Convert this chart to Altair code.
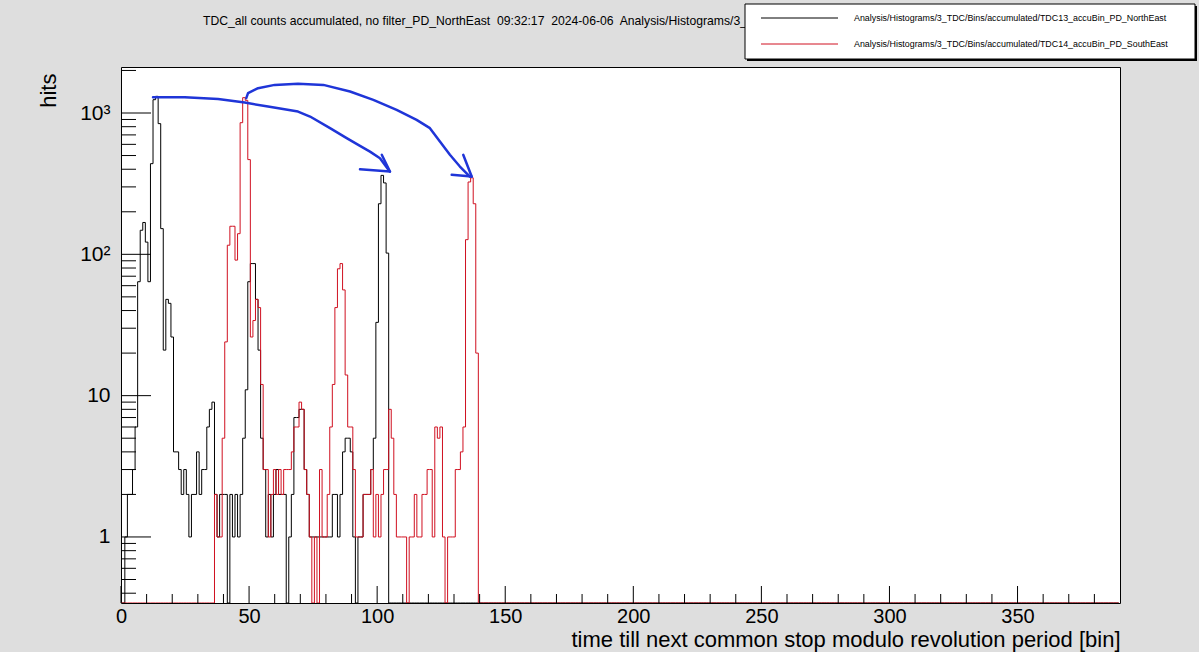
import altair as alt
import pandas as pd

# ---------------- data (bin centre = list index, bin width 1) ----------------
N_BINS = 390
black_hits = [0, 0, 1, 2, 2, 3, 6, 64, 148, 168, 122,
              64, 438, 1242, 1312, 841, 152, 21, 48, 45, 26,
              4, 4, 3, 2, 3, 2, 1, 2, 2, 4,
              2, 3, 3, 6, 8, 9, 2, 1, 2, 2,
              2, 0, 2, 1, 2, 1, 2, 5, 11, 64,
              86, 86, 48, 21, 5, 3, 1, 2, 1, 2,
              3, 2, 2, 2, 0, 1, 2, 7, 7, 8,
              8, 3, 2, 1, 1, 1, 1, 1, 1, 1,
              1, 1, 2, 2, 1, 2, 4, 5, 5, 4,
              1, 0, 1, 1, 2, 2, 2, 3, 5, 33,
              228, 362, 320, 102]
red_hits = [0] * 37 + [2, 1, 1, 5,
            24, 116, 158, 158, 91, 140, 854, 1284, 1229, 468,
            26, 34, 48, 42, 12, 3, 3, 1, 2, 3,
            2, 3, 2, 3, 3, 3, 4, 6, 6, 9,
            8, 3, 2, 1, 0, 1, 0, 3, 1, 1,
            2, 6, 12, 42, 79, 86, 56, 14, 6, 6,
            3, 1, 1, 1, 2, 2, 2, 3, 1, 2,
            1, 2, 3, 3, 8, 5, 2, 1, 1, 1,
            1, 0, 1, 1, 2, 1, 1, 2, 2, 3,
            3, 1, 6, 5, 6, 1, 0, 1, 1, 1,
            3, 3, 4, 6, 127, 325, 348, 228, 20]
black_hits = black_hits + [0] * (N_BINS - len(black_hits))
red_hits = red_hits + [0] * (N_BINS - len(red_hits))

x_major_ticks = [0, 50, 100, 150, 200, 250, 300, 350]
x_minor_ticks = [v for v in range(10, 390, 10) if v % 50 != 0]
y_major_ticks = [1, 10, 100, 1000]
y_minor_ticks = [0.4, 0.5, 0.6, 0.7, 0.8, 0.9,
                 2, 3, 4, 5, 6, 7, 8, 9,
                 20, 30, 40, 50, 60, 70, 80, 90,
                 200, 300, 400, 500, 600, 700, 800, 900, 2000]

# hand-drawn blue annotation arrows (data coordinates)
arrow1_x = [12.5, 24.9, 37.9, 48.3, 57.4, 69.1, 73.8, 81.6, 88.1, 93.3, 97.2, 101.1, 104.4]
arrow1_y = [1294, 1294, 1254, 1186, 1110, 1023, 944, 781, 664, 585, 533, 479, 396]
arrow1_head_x = [93.3, 105.0, 101.8]
arrow1_head_y = [400, 385, 506]
arrow2_x = [48.9, 49.6, 53.5, 60.0, 69.1, 79.0, 89.4, 98.5, 107.6, 115.4, 120.6, 124.5, 128.4, 132.3, 136.2]
arrow2_y = [1273, 1381, 1499, 1581, 1608, 1581, 1419, 1239, 1052, 894, 781, 628, 506, 418, 355]
arrow2_head_x = [129.1, 136.9, 133.6]
arrow2_head_y = [365, 355, 506]

NB = "\u00a0"
title_text = ("TDC_all counts accumulated, no filter_PD_NorthEast" + NB + " 09:32:17" + NB + " 2024-06-06"
              + NB + " Analysis/Histograms/3_TDC")
legend_labels = ["Analysis/Histograms/3_TDC/Bins/accumulated/TDC13_accuBin_PD_NorthEast",
                 "Analysis/Histograms/3_TDC/Bins/accumulated/TDC14_accuBin_PD_SouthEast"]
x_title = "time till next common stop modulo revolution period [bin]"
y_title = "hits"

# ---------------- geometry / style ----------------
W, H = 999, 536
Y_MIN, Y_MAX = 0.341, 2116
FONT = "Liberation Sans"
BLACK = "#000000"
RED = "#d01020"
BLUE = "#1f35d8"

xscale = alt.Scale(domain=[0, N_BINS], nice=False, zero=False)
yscale = alt.Scale(type="log", domain=[Y_MIN, Y_MAX], nice=False)

x_axis = alt.Axis(values=x_major_ticks, ticks=False, tickSize=0, domain=False, grid=False,
                  labelFont=FONT, labelFontSize=20, labelColor=BLACK, labelPadding=3,
                  labelFlush=False, labelOverlap=False,
                  title=x_title, titleFont=FONT, titleFontSize=22, titleFontWeight="normal",
                  titleColor=BLACK, titleX=W, titleY=43, titleAlign="right",
                  titleBaseline="alphabetic")
y_axis = alt.Axis(values=y_major_ticks, ticks=False, tickSize=0, domain=False, grid=False,
                  labelExpr="datum.value >= 1000 ? '10³' : datum.value >= 100 ? '10²' : datum.value >= 10 ? '10' : '1'",
                  labelFont=FONT, labelFontSize=21, labelColor=BLACK, labelPadding=11,
                  labelFlush=False, labelOverlap=False, labelBaseline="middle",
                  title=y_title, titleFont=FONT, titleFontSize=22, titleFontWeight="normal",
                  titleColor=BLACK, titleAngle=270, titleX=-66, titleY=6,
                  titleAlign="right", titleBaseline="alphabetic")


def X(field):
    return alt.X(field, scale=xscale, axis=x_axis)


def Y(field):
    return alt.Y(field, scale=yscale, axis=y_axis)


def step_frame(hits):
    rows = []
    for i, v in enumerate(hits):
        rows.append({"x": i - 0.5, "y": max(v, Y_MIN), "seq": i})
    rows.append({"x": len(hits) - 0.5, "y": max(hits[-1], Y_MIN), "seq": len(hits)})
    return pd.DataFrame(rows)


df_black = step_frame(black_hits)
df_red = step_frame(red_hits)

black_line = alt.Chart(df_black).mark_line(
    interpolate="step-after", color=BLACK, strokeWidth=1, clip=True
).encode(x=X("x:Q"), y=Y("y:Q"), order="seq:Q")

red_line = alt.Chart(df_red).mark_line(
    interpolate="step-after", color=RED, strokeWidth=1, clip=True
).encode(x=X("x:Q"), y=Y("y:Q"), order="seq:Q")

# inward ROOT-style ticks
ymaj = alt.Chart(pd.DataFrame({"y": y_major_ticks})).mark_rule(color=BLACK, strokeWidth=1).encode(
    y=Y("y:Q"), x=alt.value(0), x2=alt.value(30))
ymin = alt.Chart(pd.DataFrame({"y": y_minor_ticks})).mark_rule(color=BLACK, strokeWidth=1).encode(
    y=Y("y:Q"), x=alt.value(0), x2=alt.value(15))
xmaj = alt.Chart(pd.DataFrame({"x": x_major_ticks})).mark_rule(color=BLACK, strokeWidth=1).encode(
    x=X("x:Q"), y=alt.value(H), y2=alt.value(H - 17))
xmin = alt.Chart(pd.DataFrame({"x": x_minor_ticks})).mark_rule(color=BLACK, strokeWidth=1).encode(
    x=X("x:Q"), y=alt.value(H), y2=alt.value(H - 9))

# arrows
arrow_rows = []
for g, xs, ys in [("a1", arrow1_x, arrow1_y), ("a2", arrow2_x, arrow2_y)]:
    for k, (xx, yy) in enumerate(zip(xs, ys)):
        arrow_rows.append({"g": g, "x": xx, "y": yy, "seq": k})
for g, xs, ys in [("h1", arrow1_head_x, arrow1_head_y), ("h2", arrow2_head_x, arrow2_head_y)]:
    arrow_rows.append({"g": g + "a", "x": xs[0], "y": ys[0], "seq": 0})
    arrow_rows.append({"g": g + "a", "x": xs[1], "y": ys[1], "seq": 1})
    arrow_rows.append({"g": g + "b", "x": xs[2], "y": ys[2], "seq": 0})
    arrow_rows.append({"g": g + "b", "x": xs[1], "y": ys[1], "seq": 1})
arrows = alt.Chart(pd.DataFrame(arrow_rows)).mark_line(
    color=BLUE, strokeWidth=2.5, strokeCap="round", strokeJoin="round", clip=False
).encode(x=X("x:Q"), y=Y("y:Q"), detail="g:N", order="seq:Q")

one = pd.DataFrame({"k": [0]})
title = alt.Chart(one).mark_text(
    text=title_text, font=FONT, fontSize=12.2, align="left", baseline="alphabetic", color=BLACK
).encode(x=alt.value(82), y=alt.value(-42))

legend_shadow = alt.Chart(one).mark_rect(fill=BLACK).encode(
    x=alt.value(626), x2=alt.value(1076), y=alt.value(-61), y2=alt.value(-6))
legend_box = alt.Chart(one).mark_rect(fill="white", stroke=BLACK, strokeWidth=1).encode(
    x=alt.value(624), x2=alt.value(1074), y=alt.value(-63), y2=alt.value(-8))
leg_line1 = alt.Chart(one).mark_rule(color=BLACK, strokeWidth=1).encode(
    x=alt.value(640), x2=alt.value(717), y=alt.value(-49))
leg_line2 = alt.Chart(one).mark_rule(color=RED, strokeWidth=1).encode(
    x=alt.value(640), x2=alt.value(717), y=alt.value(-23))
leg_text1 = alt.Chart(one).mark_text(
    text=legend_labels[0], font=FONT, fontSize=8.9, align="left", baseline="middle", color=BLACK
).encode(x=alt.value(733), y=alt.value(-49))
leg_text2 = alt.Chart(one).mark_text(
    text=legend_labels[1], font=FONT, fontSize=8.9, align="left", baseline="middle", color=BLACK
).encode(x=alt.value(733), y=alt.value(-23))

chart = alt.layer(
    black_line, red_line, ymaj, ymin, xmaj, xmin, arrows,
    title, legend_shadow, legend_box, leg_line1, leg_line2, leg_text1, leg_text2,
).properties(
    width=W, height=H,
    autosize=alt.AutoSizeParams(type="none"),
    padding={"left": 121, "top": 67, "right": 79, "bottom": 49},
).configure(
    background="#dedede",
).configure_view(
    fill="white", stroke=BLACK, strokeWidth=1,
)

chart.save("out.html", embed_options={"renderer": "svg", "actions": False})
